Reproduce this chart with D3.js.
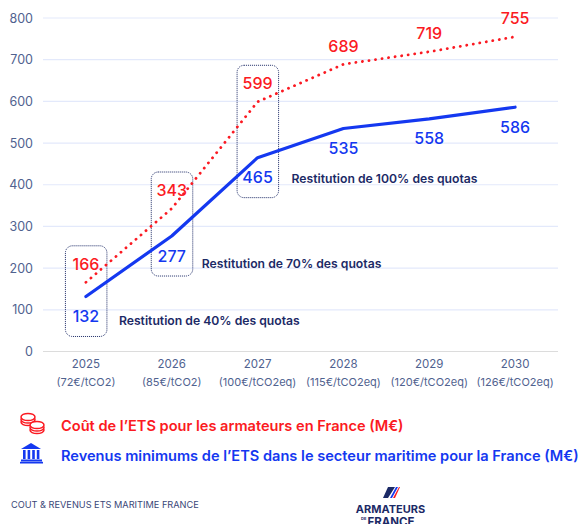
<!DOCTYPE html>
<html>
<head>
<meta charset="utf-8">
<script src="https://cdn.jsdelivr.net/npm/d3@7"></script>
<style>
body { margin: 0; background: #fff; overflow: hidden; }
text { font-family: Inter, "Noto Sans", sans-serif; }
</style>
</head>
<body>
<div id="chart"></div>
<script>
var years = ['2025', '2026', '2027', '2028', '2029', '2030'];
var prices = ['(72€/tCO2)', '(85€/tCO2)', '(100€/tCO2eq)', '(115€/tCO2eq)', '(120€/tCO2eq)', '(126€/tCO2eq)'];
var cost = [166, 343, 599, 689, 719, 755];
var revenue = [132, 277, 465, 535, 558, 586];
var yTicks = [0, 100, 200, 300, 400, 500, 600, 700, 800];
var restitutions = ['Restitution de 40% des quotas', 'Restitution de 70% des quotas', 'Restitution de 100% des quotas'];
var costLabel = 'Coût de l’ETS pour les armateurs en France (M€)';
var revenueLabel = 'Revenus minimums de l’ETS dans le secteur maritime pour la France (M€)';
var footer = 'COUT & REVENUS ETS MARITIME FRANCE';

var RED = '#fb1a22', BLUE = '#1438f0', NAVY = '#1c2a66', SLATE = '#50628f';

var width = 581,
	height = 524;

var svg = d3.select('#chart').append('svg')
	.attr('width', width)
	.attr('height', height)
	.style('display', 'block');

var x = d3.scaleBand().domain(years).range([43, 558]);
var y = d3.scaleLinear().domain([0, 800]).range([351.5, 18]);
var cx = function(i){ return x(years[i]) + x.bandwidth() / 2; };

//grid
svg.append('g').selectAll('line')
	.data(yTicks)
	.enter().append('line')
		.attr('x1', 43)
		.attr('x2', 558)
		.attr('y1', function(d){ return y(d); })
		.attr('y2', function(d){ return y(d); })
		.attr('stroke', function(d){ return d === 0 ? '#dcdcdc' : '#e3e9fb'; })
		.attr('stroke-width', 1.2);

//y axis
var yAxis = d3.axisLeft(y).tickValues(yTicks).tickSize(0).tickPadding(0);
var yG = svg.append('g').attr('transform', 'translate(33,0)').call(yAxis);
yG.select('.domain').remove();
yG.selectAll('text')
	.attr('font-size', 12.5)
	.style('font-family', 'Inter, sans-serif')
	.attr('fill', SLATE);

//x axis
var xAxis = d3.axisBottom(x).tickSize(0).tickPadding(0);
var xG = svg.append('g').attr('transform', 'translate(0,360)').call(xAxis);
xG.select('.domain').remove();
xG.selectAll('text')
	.attr('font-size', 11.5)
	.style('font-family', 'Inter, sans-serif')
	.attr('fill', SLATE);
svg.append('g').selectAll('text')
	.data(prices)
	.enter().append('text')
		.attr('x', function(d, i){ return cx(i); })
		.attr('y', 385.5)
		.attr('text-anchor', 'middle')
		.attr('font-size', 11)
		.attr('fill', SLATE)
		.text(function(d){ return d; });

//restitution boxes
svg.append('g').selectAll('rect')
	.data(restitutions)
	.enter().append('rect')
		.attr('x', function(d, i){ return cx(i) - 20.5; })
		.attr('y', function(d, i){ return y(cost[i]) - 36.5; })
		.attr('width', 41.5)
		.attr('height', function(d, i){ return y(revenue[i]) + 40 - y(cost[i]) + 36.5; })
		.attr('rx', 7)
		.attr('fill', 'none')
		.attr('stroke', NAVY)
		.attr('stroke-width', 1)
		.attr('stroke-dasharray', '1 1');

//restitution notes
var noteDx = [33, 30, 34],
	noteDy = [29, 32, 25];
svg.append('g').selectAll('text')
	.data(restitutions)
	.enter().append('text')
		.attr('x', function(d, i){ return cx(i) + noteDx[i]; })
		.attr('y', function(d, i){ return y(revenue[i]) + noteDy[i]; })
		.attr('font-size', 12.2)
		.attr('font-weight', 600)
		.attr('fill', NAVY)
		.text(function(d){ return d; });

//lines
var line = d3.line()
	.x(function(d, i){ return cx(i); })
	.y(function(d){ return y(d); });

svg.append('path')
	.attr('d', line(cost))
	.attr('fill', 'none')
	.attr('stroke', RED)
	.attr('stroke-width', 2.8)
	.attr('stroke-linecap', 'round')
	.attr('stroke-dasharray', '0.1 6.5');

svg.append('path')
	.attr('d', line(revenue))
	.attr('fill', 'none')
	.attr('stroke', BLUE)
	.attr('stroke-width', 3.2)
	.attr('stroke-linecap', 'round')
	.attr('stroke-linejoin', 'round');

//value labels
svg.append('g').selectAll('text')
	.data(cost)
	.enter().append('text')
		.attr('x', function(d, i){ return cx(i); })
		.attr('y', function(d){ return y(d) - 12.5; })
		.attr('text-anchor', 'middle')
		.attr('font-size', 16)
		.attr('font-weight', 500)
		.attr('fill', RED)
		.text(function(d){ return d; });

svg.append('g').selectAll('text')
	.data(revenue)
	.enter().append('text')
		.attr('x', function(d, i){ return cx(i); })
		.attr('y', function(d){ return y(d) + 25.5; })
		.attr('text-anchor', 'middle')
		.attr('font-size', 16)
		.attr('font-weight', 500)
		.attr('fill', BLUE)
		.text(function(d){ return d; });

//legend
svg.append('text')
	.attr('x', 61)
	.attr('y', 430.5)
	.attr('font-size', 14.6)
	.attr('font-weight', 600)
	.attr('fill', RED)
	.text(costLabel);

svg.append('text')
	.attr('x', 61)
	.attr('y', 461)
	.attr('font-size', 14.6)
	.attr('font-weight', 600)
	.attr('fill', BLUE)
	.text(revenueLabel);

//coins icon
var coins = svg.append('g')
	.attr('fill', '#fff')
	.attr('stroke', RED)
	.attr('stroke-width', 1.5);
[[28, 422], [28, 419.5], [28, 417], [37, 430], [37, 427.5], [37, 425]].forEach(function(c){
	coins.append('ellipse')
		.attr('cx', c[0])
		.attr('cy', c[1])
		.attr('rx', 7)
		.attr('ry', 3.6);
});

//bank icon
var bank = svg.append('g').attr('fill', BLUE);
bank.append('path').attr('d', d3.line()([[31, 443], [41, 449], [21, 449]]));
bank.selectAll('rect')
	.data(d3.range(4))
	.enter().append('rect')
		.attr('x', function(d){ return 23 + d * 4.6; })
		.attr('y', 450)
		.attr('width', 2.6)
		.attr('height', 9);
bank.append('rect').attr('x', 21).attr('y', 459.5).attr('width', 21).attr('height', 2);
bank.append('rect').attr('x', 20).attr('y', 461.8).attr('width', 23).attr('height', 1.7);

//footer
svg.append('text')
	.attr('x', 11)
	.attr('y', 508)
	.attr('font-size', 9.2)
	.attr('fill', '#3a4778')
	.text(footer);

//logo
svg.append('path').attr('d', 'M388 487H395L388 498H383Z').attr('fill', NAVY);
svg.append('path').attr('d', 'M396 487H398L392 498H390Z').attr('fill', BLUE);
svg.append('path').attr('d', 'M399 487H400L395 498H393Z').attr('fill', RED);
svg.append('text')
	.attr('x', 390.5)
	.attr('y', 513)
	.attr('text-anchor', 'middle')
	.attr('font-size', 11)
	.attr('font-weight', 700)
	.attr('fill', NAVY)
	.text('ARMATEURS');
svg.append('text')
	.attr('x', 361)
	.attr('y', 520)
	.attr('font-size', 4)
	.attr('font-weight', 700)
	.attr('fill', NAVY)
	.text('DE');
svg.append('text')
	.attr('x', 391)
	.attr('y', 526)
	.attr('text-anchor', 'middle')
	.attr('font-size', 11.5)
	.attr('font-weight', 700)
	.attr('fill', NAVY)
	.text('FRANCE');
</script>
</body>
</html>
